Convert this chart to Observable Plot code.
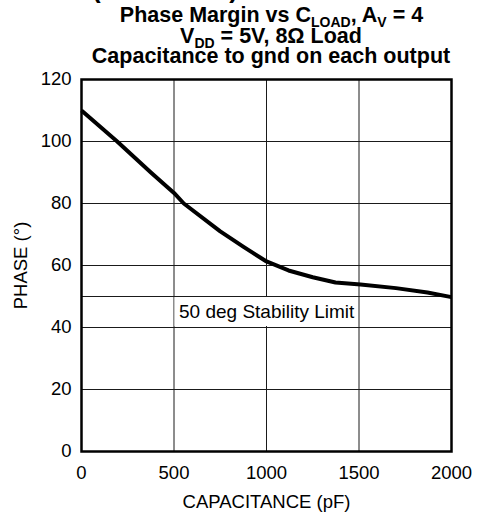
<!DOCTYPE html>
<html>
<head>
<meta charset="utf-8">
<script src="https://cdn.jsdelivr.net/npm/d3@7"></script>
<script src="https://cdn.jsdelivr.net/npm/@observablehq/plot@0.6"></script>
<style>
  html, body { margin: 0; padding: 0; background: white; overflow: hidden; }
  #wrap { position: relative; width: 477px; height: 512px; }
  #title { position: relative; width: 477px; height: 70px; font-family: "Liberation Sans", Arial, sans-serif; font-weight: bold; font-size: 21.5px; color: black; }
  #title .l { position: absolute; white-space: nowrap; line-height: 21px; transform: translateX(-50%); }
  #title sub { font-size: 14px; vertical-align: -5px; line-height: 1; }
  #chart svg { display: block; }
</style>
</head>
<body>
<div id="wrap">
  <div id="title">
    <div class="l" style="top:-24px; left:165px; font-size:26px; line-height:26px;">(Continued)</div>
    <div class="l" style="top:4.5px; left:271.5px;">Phase Margin vs C<sub>LOAD</sub>, A<sub>V</sub> = 4</div>
    <div class="l" style="top:25.5px; left:271px;">V<sub>DD</sub> = 5V, 8Ω Load</div>
    <div class="l" style="top:45.5px; left:271px;">Capacitance to gnd on each output</div>
  </div>
  <div id="chart"></div>
</div>
<script>
// Data
const capacitance = [0, 193, 375, 500, 553, 750, 876, 1000, 1119, 1250, 1373, 1508, 1700, 1870, 2000];
const phase       = [110, 100, 90, 83.4, 80, 71, 66, 61.3, 58.4, 56.2, 54.5, 53.9, 52.7, 51.3, 49.8];

const xTicks = [0, 500, 1000, 1500, 2000];
const yTicks = [0, 20, 40, 60, 80, 100, 120];
const gridX = [500, 1000, 1500];
const gridY = [20, 40, 60, 80, 100];
const limitValue = [50];
const limitLabel = ["50 deg Stability Limit"];
const limitBox = [{x1: 500, x2: 1500, y1: 40, y2: 50}];

const data = capacitance.map((c, i) => ({c, p: phase[i]}));

const svg = Plot.plot({
  width: 477,
  height: 442,
  marginTop: 9,
  marginBottom: 61,
  marginLeft: 81,
  marginRight: 26,
  style: {fontFamily: "'Liberation Sans', Arial, sans-serif", fontSize: "18.5px", color: "black", background: "white", overflow: "visible"},
  x: {domain: [0, 2000], ticks: xTicks, tickFormat: d3.format("d"), tickSize: 0, tickPadding: 14,
      label: "CAPACITANCE (pF)", labelAnchor: "center", labelArrow: "none", labelOffset: 56},
  y: {domain: [0, 120], ticks: yTicks, tickFormat: d3.format("d"), tickSize: 0, tickPadding: 10,
      label: "PHASE (°)", labelAnchor: "center", labelArrow: "none", labelOffset: 68},
  marks: [
    Plot.ruleX(gridX, {stroke: "#1a1a1a", strokeWidth: 1}),
    Plot.ruleY(gridY, {stroke: "#1a1a1a", strokeWidth: 1}),
    Plot.ruleY(limitValue, {stroke: "#1a1a1a", strokeWidth: 1}),
    Plot.rect(limitBox, {x1: "x1", x2: "x2", y1: "y1", y2: "y2", fill: "white", inset: 1}),
    Plot.text(limitLabel, {x: 500, y: 45, text: d => d, textAnchor: "start", dx: 5, fontSize: 19, fill: "black"}),
    Plot.line(data, {x: "c", y: "p", stroke: "black", strokeWidth: 4, strokeLinejoin: "round", strokeLinecap: "butt"}),
    Plot.frame({stroke: "black", strokeWidth: 2.5})
  ]
});
document.getElementById("chart").appendChild(svg);
</script>
</body>
</html>
